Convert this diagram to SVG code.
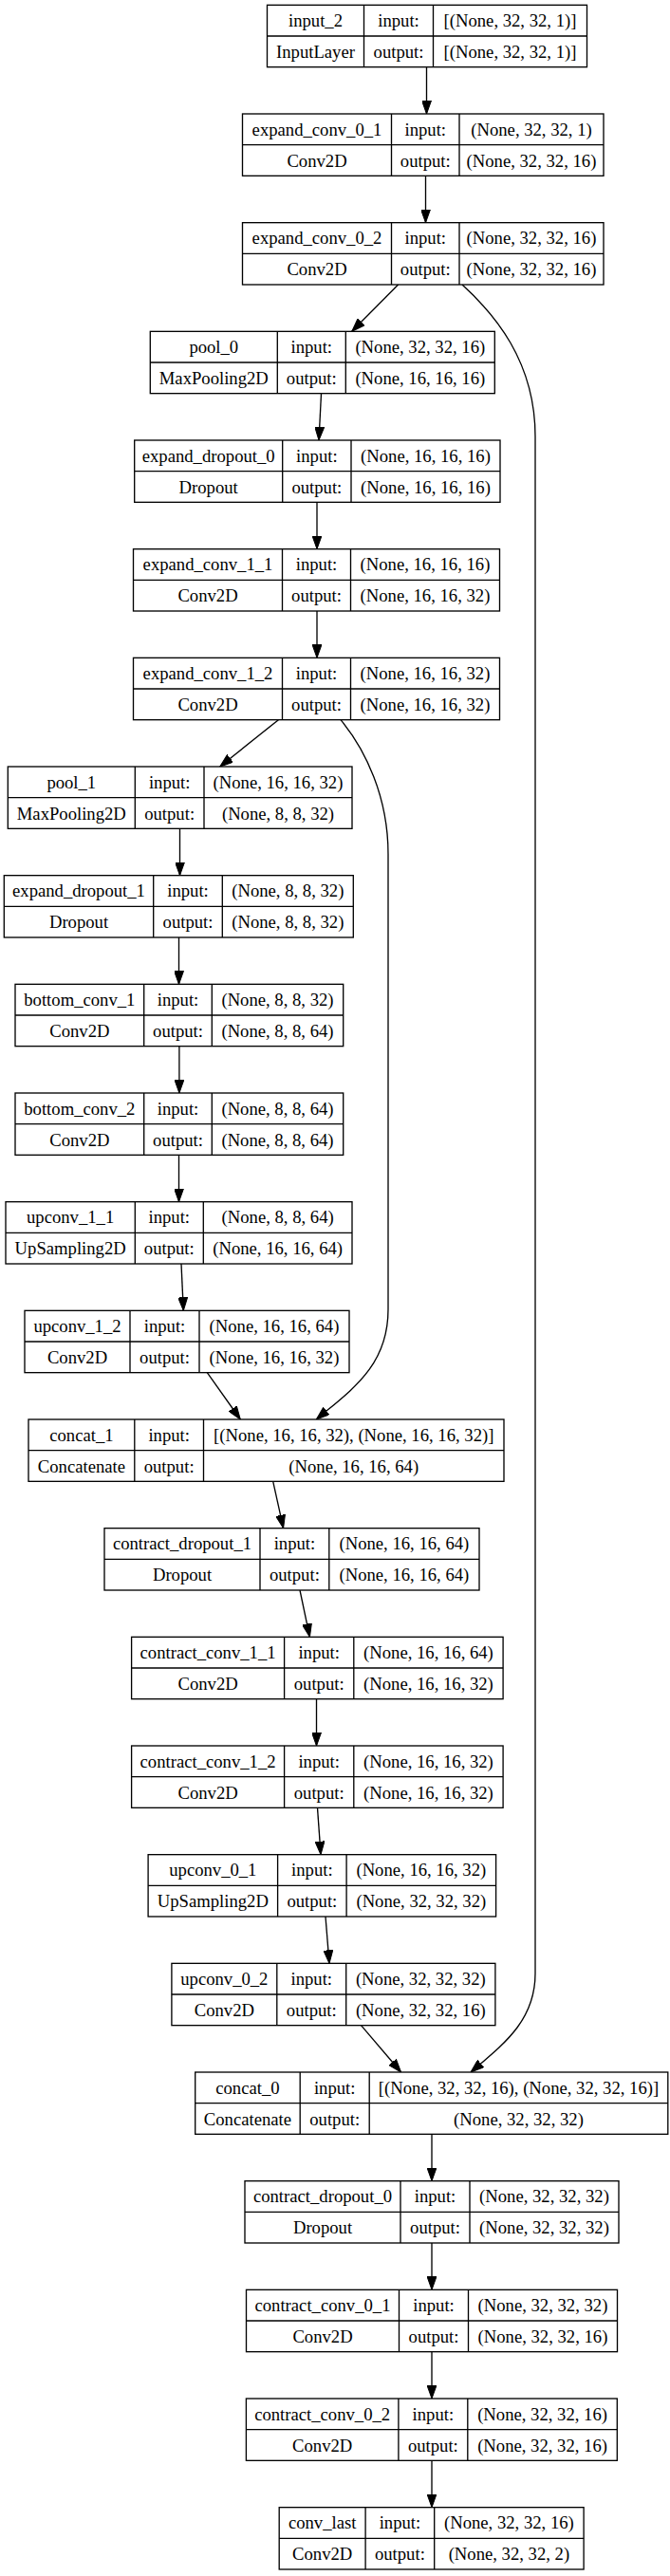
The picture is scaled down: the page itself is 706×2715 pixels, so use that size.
<svg xmlns="http://www.w3.org/2000/svg" width="706" height="2715" viewBox="0 0 706 2715">
<style>
.box{fill:#fff;stroke:#000;stroke-width:1.33}
.dv{fill:none;stroke:#000;stroke-width:1.33}
text{font-family:'Liberation Serif','Times New Roman',serif;font-size:18.67px;text-anchor:middle;fill:#000}
.edge{fill:none;stroke:#000;stroke-width:1.33;marker-end:url(#ah)}
</style>
<defs>
<marker id="ah" viewBox="0 0 14 10" refX="14" refY="5" markerWidth="14" markerHeight="10" markerUnits="userSpaceOnUse" orient="auto">
<path d="M0,0 L14,5 L0,10 Z" fill="#000" stroke="#000" stroke-width="1"/>
</marker>
</defs>
<rect width="706" height="2715" fill="#fff"/>
<g id="connectors">
<path class="edge" d="M449.5,70.67 V120"/>
<path class="edge" d="M448.5,185.33 V234.67"/>
<path class="edge" d="M419.6,300 L370.7,349.33"/>
<path class="edge" d="M487,300 C520,330 564,380 564,460 V2080 C564,2130 530,2155 496,2184"/>
<path class="edge" d="M338.5,414.67 L336,464"/>
<path class="edge" d="M334,529.33 V578.67"/>
<path class="edge" d="M334,644 V693.33"/>
<path class="edge" d="M293.4,758.67 L231.7,808"/>
<path class="edge" d="M359,758.67 C385,790 409,840 409,900 V1380 C409,1440 370,1465 333.3,1496"/>
<path class="edge" d="M189.5,873.33 V922.67"/>
<path class="edge" d="M188.5,988 V1037.33"/>
<path class="edge" d="M188.9,1102.67 V1152"/>
<path class="edge" d="M188.5,1217.33 V1266.67"/>
<path class="edge" d="M191,1332 L193.3,1381.33"/>
<path class="edge" d="M218.3,1446.67 L253.3,1496"/>
<path class="edge" d="M287.7,1561.33 L298.6,1610.67"/>
<path class="edge" d="M316,1676 L326.4,1725.33"/>
<path class="edge" d="M333.5,1790.67 V1840"/>
<path class="edge" d="M334.5,1905.33 L338,1954.67"/>
<path class="edge" d="M343,2020 L347,2069.33"/>
<path class="edge" d="M380.5,2134.67 L422.6,2184"/>
<path class="edge" d="M455,2249.33 V2298.67"/>
<path class="edge" d="M455,2364 V2413.33"/>
<path class="edge" d="M455,2478.67 V2528"/>
<path class="edge" d="M455,2593.33 V2642.67"/>
</g>
<g id="input_2">
<rect class="box" x="281.5" y="5.33" width="337" height="65.34"/>
<path class="dv" d="M383.5,5.33 V70.67 M456.5,5.33 V70.67 M281.5,38 H618.5"/>
<text x="332.5" y="28.13">input_2</text><text x="332.5" y="60.83">InputLayer</text>
<text x="420" y="28.13">input:</text><text x="420" y="60.83">output:</text>
<text x="537.5" y="28.13">[(None, 32, 32, 1)]</text><text x="537.5" y="60.83">[(None, 32, 32, 1)]</text>
</g>
<g id="expand_conv_0_1">
<rect class="box" x="255.5" y="120" width="380.5" height="65.33"/>
<path class="dv" d="M412.5,120 V185.33 M484,120 V185.33 M255.5,152.67 H636"/>
<text x="334" y="142.8">expand_conv_0_1</text><text x="334" y="175.5">Conv2D</text>
<text x="448.25" y="142.8">input:</text><text x="448.25" y="175.5">output:</text>
<text x="560" y="142.8">(None, 32, 32, 1)</text><text x="560" y="175.5">(None, 32, 32, 16)</text>
</g>
<g id="expand_conv_0_2">
<rect class="box" x="255.5" y="234.67" width="380.5" height="65.33"/>
<path class="dv" d="M412.5,234.67 V300 M484,234.67 V300 M255.5,267.33 H636"/>
<text x="334" y="257.47">expand_conv_0_2</text><text x="334" y="290.17">Conv2D</text>
<text x="448.25" y="257.47">input:</text><text x="448.25" y="290.17">output:</text>
<text x="560" y="257.47">(None, 32, 32, 16)</text><text x="560" y="290.17">(None, 32, 32, 16)</text>
</g>
<g id="pool_0">
<rect class="box" x="158.3" y="349.33" width="363" height="65.34"/>
<path class="dv" d="M292.3,349.33 V414.67 M364.3,349.33 V414.67 M158.3,382 H521.3"/>
<text x="225.3" y="372.13">pool_0</text><text x="225.3" y="404.83">MaxPooling2D</text>
<text x="328.3" y="372.13">input:</text><text x="328.3" y="404.83">output:</text>
<text x="442.8" y="372.13">(None, 32, 32, 16)</text><text x="442.8" y="404.83">(None, 16, 16, 16)</text>
</g>
<g id="expand_dropout_0">
<rect class="box" x="141.7" y="464" width="385.3" height="65.33"/>
<path class="dv" d="M297.7,464 V529.33 M370,464 V529.33 M141.7,496.67 H527"/>
<text x="219.7" y="486.8">expand_dropout_0</text><text x="219.7" y="519.5">Dropout</text>
<text x="333.85" y="486.8">input:</text><text x="333.85" y="519.5">output:</text>
<text x="448.5" y="486.8">(None, 16, 16, 16)</text><text x="448.5" y="519.5">(None, 16, 16, 16)</text>
</g>
<g id="expand_conv_1_1">
<rect class="box" x="140.5" y="578.67" width="386" height="65.33"/>
<path class="dv" d="M297.5,578.67 V644 M369.5,578.67 V644 M140.5,611.33 H526.5"/>
<text x="219" y="601.47">expand_conv_1_1</text><text x="219" y="634.17">Conv2D</text>
<text x="333.5" y="601.47">input:</text><text x="333.5" y="634.17">output:</text>
<text x="448" y="601.47">(None, 16, 16, 16)</text><text x="448" y="634.17">(None, 16, 16, 32)</text>
</g>
<g id="expand_conv_1_2">
<rect class="box" x="140.5" y="693.33" width="386" height="65.34"/>
<path class="dv" d="M297.5,693.33 V758.67 M369.5,693.33 V758.67 M140.5,726 H526.5"/>
<text x="219" y="716.13">expand_conv_1_2</text><text x="219" y="748.83">Conv2D</text>
<text x="333.5" y="716.13">input:</text><text x="333.5" y="748.83">output:</text>
<text x="448" y="716.13">(None, 16, 16, 32)</text><text x="448" y="748.83">(None, 16, 16, 32)</text>
</g>
<g id="pool_1">
<rect class="box" x="8.3" y="808" width="362.7" height="65.33"/>
<path class="dv" d="M142.3,808 V873.33 M215,808 V873.33 M8.3,840.67 H371"/>
<text x="75.3" y="830.8">pool_1</text><text x="75.3" y="863.5">MaxPooling2D</text>
<text x="178.65" y="830.8">input:</text><text x="178.65" y="863.5">output:</text>
<text x="293" y="830.8">(None, 16, 16, 32)</text><text x="293" y="863.5">(None, 8, 8, 32)</text>
</g>
<g id="expand_dropout_1">
<rect class="box" x="4.3" y="922.67" width="368" height="65.33"/>
<path class="dv" d="M161.7,922.67 V988 M234.3,922.67 V988 M4.3,955.33 H372.3"/>
<text x="83" y="945.47">expand_dropout_1</text><text x="83" y="978.17">Dropout</text>
<text x="198" y="945.47">input:</text><text x="198" y="978.17">output:</text>
<text x="303.3" y="945.47">(None, 8, 8, 32)</text><text x="303.3" y="978.17">(None, 8, 8, 32)</text>
</g>
<g id="bottom_conv_1">
<rect class="box" x="16" y="1037.33" width="345.7" height="65.34"/>
<path class="dv" d="M151.7,1037.33 V1102.67 M223.3,1037.33 V1102.67 M16,1070 H361.7"/>
<text x="83.85" y="1060.13">bottom_conv_1</text><text x="83.85" y="1092.83">Conv2D</text>
<text x="187.5" y="1060.13">input:</text><text x="187.5" y="1092.83">output:</text>
<text x="292.5" y="1060.13">(None, 8, 8, 32)</text><text x="292.5" y="1092.83">(None, 8, 8, 64)</text>
</g>
<g id="bottom_conv_2">
<rect class="box" x="16" y="1152" width="345.7" height="65.33"/>
<path class="dv" d="M151.7,1152 V1217.33 M223.3,1152 V1217.33 M16,1184.67 H361.7"/>
<text x="83.85" y="1174.8">bottom_conv_2</text><text x="83.85" y="1207.5">Conv2D</text>
<text x="187.5" y="1174.8">input:</text><text x="187.5" y="1207.5">output:</text>
<text x="292.5" y="1174.8">(None, 8, 8, 64)</text><text x="292.5" y="1207.5">(None, 8, 8, 64)</text>
</g>
<g id="upconv_1_1">
<rect class="box" x="6" y="1266.67" width="365" height="65.33"/>
<path class="dv" d="M142.3,1266.67 V1332 M214.3,1266.67 V1332 M6,1299.33 H371"/>
<text x="74.15" y="1289.47">upconv_1_1</text><text x="74.15" y="1322.17">UpSampling2D</text>
<text x="178.3" y="1289.47">input:</text><text x="178.3" y="1322.17">output:</text>
<text x="292.65" y="1289.47">(None, 8, 8, 64)</text><text x="292.65" y="1322.17">(None, 16, 16, 64)</text>
</g>
<g id="upconv_1_2">
<rect class="box" x="26" y="1381.33" width="342" height="65.34"/>
<path class="dv" d="M137,1381.33 V1446.67 M210,1381.33 V1446.67 M26,1414 H368"/>
<text x="81.5" y="1404.13">upconv_1_2</text><text x="81.5" y="1436.83">Conv2D</text>
<text x="173.5" y="1404.13">input:</text><text x="173.5" y="1436.83">output:</text>
<text x="289" y="1404.13">(None, 16, 16, 64)</text><text x="289" y="1436.83">(None, 16, 16, 32)</text>
</g>
<g id="concat_1">
<rect class="box" x="30" y="1496" width="501" height="65.33"/>
<path class="dv" d="M141.8,1496 V1561.33 M214.5,1496 V1561.33 M30,1528.67 H531"/>
<text x="85.9" y="1518.8">concat_1</text><text x="85.9" y="1551.5">Concatenate</text>
<text x="178.15" y="1518.8">input:</text><text x="178.15" y="1551.5">output:</text>
<text x="372.75" y="1518.8">[(None, 16, 16, 32), (None, 16, 16, 32)]</text><text x="372.75" y="1551.5">(None, 16, 16, 64)</text>
</g>
<g id="contract_dropout_1">
<rect class="box" x="110" y="1610.67" width="395" height="65.33"/>
<path class="dv" d="M274,1610.67 V1676 M346.8,1610.67 V1676 M110,1643.33 H505"/>
<text x="192" y="1633.47">contract_dropout_1</text><text x="192" y="1666.17">Dropout</text>
<text x="310.4" y="1633.47">input:</text><text x="310.4" y="1666.17">output:</text>
<text x="425.9" y="1633.47">(None, 16, 16, 64)</text><text x="425.9" y="1666.17">(None, 16, 16, 64)</text>
</g>
<g id="contract_conv_1_1">
<rect class="box" x="138.6" y="1725.33" width="391.5" height="65.34"/>
<path class="dv" d="M299.6,1725.33 V1790.67 M372.8,1725.33 V1790.67 M138.6,1758 H530.1"/>
<text x="219.1" y="1748.13">contract_conv_1_1</text><text x="219.1" y="1780.83">Conv2D</text>
<text x="336.2" y="1748.13">input:</text><text x="336.2" y="1780.83">output:</text>
<text x="451.45" y="1748.13">(None, 16, 16, 64)</text><text x="451.45" y="1780.83">(None, 16, 16, 32)</text>
</g>
<g id="contract_conv_1_2">
<rect class="box" x="138.6" y="1840" width="391.5" height="65.33"/>
<path class="dv" d="M299.6,1840 V1905.33 M372.8,1840 V1905.33 M138.6,1872.67 H530.1"/>
<text x="219.1" y="1862.8">contract_conv_1_2</text><text x="219.1" y="1895.5">Conv2D</text>
<text x="336.2" y="1862.8">input:</text><text x="336.2" y="1895.5">output:</text>
<text x="451.45" y="1862.8">(None, 16, 16, 32)</text><text x="451.45" y="1895.5">(None, 16, 16, 32)</text>
</g>
<g id="upconv_0_1">
<rect class="box" x="156.1" y="1954.67" width="366.5" height="65.33"/>
<path class="dv" d="M292.6,1954.67 V2020 M365.1,1954.67 V2020 M156.1,1987.33 H522.6"/>
<text x="224.35" y="1977.47">upconv_0_1</text><text x="224.35" y="2010.17">UpSampling2D</text>
<text x="328.85" y="1977.47">input:</text><text x="328.85" y="2010.17">output:</text>
<text x="443.85" y="1977.47">(None, 16, 16, 32)</text><text x="443.85" y="2010.17">(None, 32, 32, 32)</text>
</g>
<g id="upconv_0_2">
<rect class="box" x="180.9" y="2069.33" width="341" height="65.34"/>
<path class="dv" d="M291.8,2069.33 V2134.67 M364.7,2069.33 V2134.67 M180.9,2102 H521.9"/>
<text x="236.35" y="2092.13">upconv_0_2</text><text x="236.35" y="2124.83">Conv2D</text>
<text x="328.25" y="2092.13">input:</text><text x="328.25" y="2124.83">output:</text>
<text x="443.3" y="2092.13">(None, 32, 32, 32)</text><text x="443.3" y="2124.83">(None, 32, 32, 16)</text>
</g>
<g id="concat_0">
<rect class="box" x="205.7" y="2184" width="498.1" height="65.33"/>
<path class="dv" d="M316.2,2184 V2249.33 M389.2,2184 V2249.33 M205.7,2216.67 H703.8"/>
<text x="260.95" y="2206.8">concat_0</text><text x="260.95" y="2239.5">Concatenate</text>
<text x="352.7" y="2206.8">input:</text><text x="352.7" y="2239.5">output:</text>
<text x="546.5" y="2206.8">[(None, 32, 32, 16), (None, 32, 32, 16)]</text><text x="546.5" y="2239.5">(None, 32, 32, 32)</text>
</g>
<g id="contract_dropout_0">
<rect class="box" x="258" y="2298.67" width="394" height="65.33"/>
<path class="dv" d="M422,2298.67 V2364 M495,2298.67 V2364 M258,2331.33 H652"/>
<text x="340" y="2321.47">contract_dropout_0</text><text x="340" y="2354.17">Dropout</text>
<text x="458.5" y="2321.47">input:</text><text x="458.5" y="2354.17">output:</text>
<text x="573.5" y="2321.47">(None, 32, 32, 32)</text><text x="573.5" y="2354.17">(None, 32, 32, 32)</text>
</g>
<g id="contract_conv_0_1">
<rect class="box" x="259.5" y="2413.33" width="391" height="65.34"/>
<path class="dv" d="M420.5,2413.33 V2478.67 M493.5,2413.33 V2478.67 M259.5,2446 H650.5"/>
<text x="340" y="2436.13">contract_conv_0_1</text><text x="340" y="2468.83">Conv2D</text>
<text x="457" y="2436.13">input:</text><text x="457" y="2468.83">output:</text>
<text x="572" y="2436.13">(None, 32, 32, 32)</text><text x="572" y="2468.83">(None, 32, 32, 16)</text>
</g>
<g id="contract_conv_0_2">
<rect class="box" x="259.4" y="2528" width="390.9" height="65.33"/>
<path class="dv" d="M419.9,2528 V2593.33 M492.8,2528 V2593.33 M259.4,2560.67 H650.3"/>
<text x="339.65" y="2550.8">contract_conv_0_2</text><text x="339.65" y="2583.5">Conv2D</text>
<text x="456.35" y="2550.8">input:</text><text x="456.35" y="2583.5">output:</text>
<text x="571.55" y="2550.8">(None, 32, 32, 16)</text><text x="571.55" y="2583.5">(None, 32, 32, 16)</text>
</g>
<g id="conv_last">
<rect class="box" x="294.2" y="2642.67" width="320.9" height="65.33"/>
<path class="dv" d="M385.1,2642.67 V2708 M457.7,2642.67 V2708 M294.2,2675.33 H615.1"/>
<text x="339.65" y="2665.47">conv_last</text><text x="339.65" y="2698.17">Conv2D</text>
<text x="421.4" y="2665.47">input:</text><text x="421.4" y="2698.17">output:</text>
<text x="536.4" y="2665.47">(None, 32, 32, 16)</text><text x="536.4" y="2698.17">(None, 32, 32, 2)</text>
</g>
</svg>
